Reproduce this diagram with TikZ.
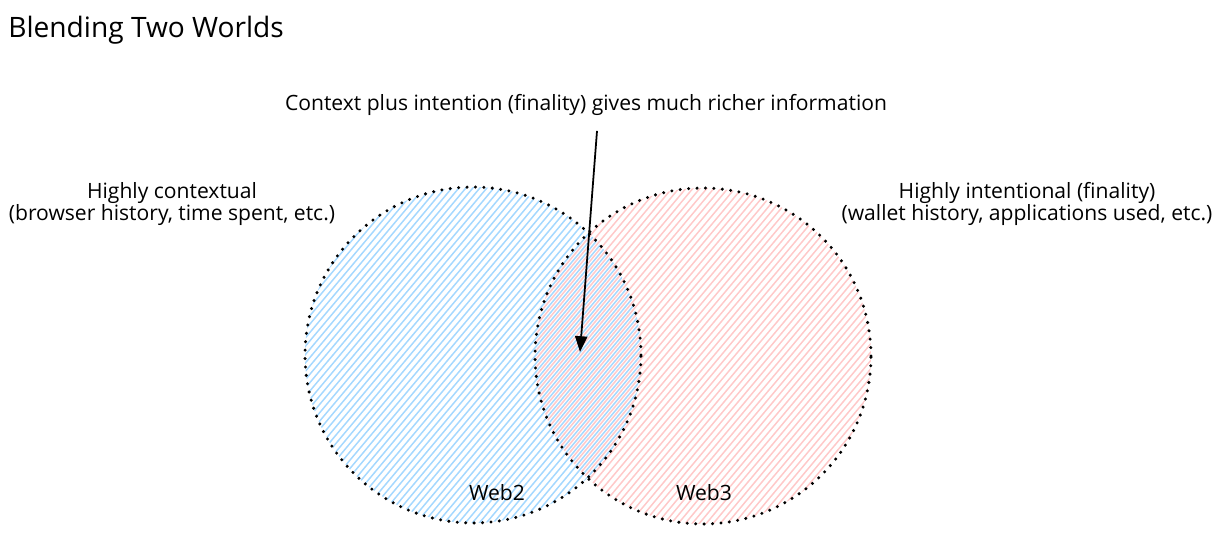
\documentclass[tikz,border=0pt]{standalone}
\usepackage{fontspec}
\setmainfont{Open Sans}
\usepackage{xcolor}
\usepackage{tikz}
\usetikzlibrary{arrows.meta,positioning,backgrounds}

\definecolor{webblue}{HTML}{A5D8FF}
\definecolor{webpink}{HTML}{FFC9C9}

\begin{document}
\begin{tikzpicture}[
    x=0.02cm, y=-0.02cm,
    venn/.style={circle, draw, minimum size=6.72cm, inner sep=0pt, line width=1.9pt, dash pattern=on 0pt off 4.8pt, line cap=round},
    hatch/.style={line width=0.85pt},
    label/.style={align=center, font=\fontsize{12}{13}\selectfont, inner sep=0pt},
    arrow/.style={-{Triangle[length=9pt,width=7pt]}, line width=1pt}
]
\useasboundingbox (0,0) rectangle (1229,534);

% Title
\node[anchor=west, inner sep=0pt, font=\fontsize{16}{18}\selectfont] (title) at (8,30) {Blending Two Worlds};

% Circles
\node[venn] (web2) at (473,355) {};
\node[venn] (web3) at (703,356) {};

% Hatching (pink offset by half a step so both show in the overlap)
\begin{scope}[on background layer]
  \begin{scope}
    \clip (web2.center) circle[radius=168];
    \foreach \i in {-420,-413,...,420}
      \draw[hatch, webblue] (web2.center) ++(\i-170,203) -- ++(340,-406);
  \end{scope}
  \begin{scope}
    \clip (web3.center) circle[radius=168];
    \foreach \i in {-420,-413,...,420}
      \draw[hatch, webpink] (web3.center) ++(\i-166.5,203) -- ++(340,-406);
  \end{scope}
\end{scope}

% Labels
\node[label] (ctx) at (172,204) {Highly contextual\\(browser history, time spent, etc.)};
\node[label] (intent) at (1027,204) {Highly intentional (finality)\\(wallet history, applications used, etc.)};
\node[label] (rich) at (586,105) {Context plus intention (finality) gives much richer information};
\node[label] (web2lbl) at (497,493) {Web2};
\node[label] (web3lbl) at (704,493) {Web3};

% Arrow
\coordinate (overlap) at (580,352);
\draw[arrow] ([xshift=0.22cm, yshift=-0.3cm]rich.south) -- (overlap);

\end{tikzpicture}
\end{document}
